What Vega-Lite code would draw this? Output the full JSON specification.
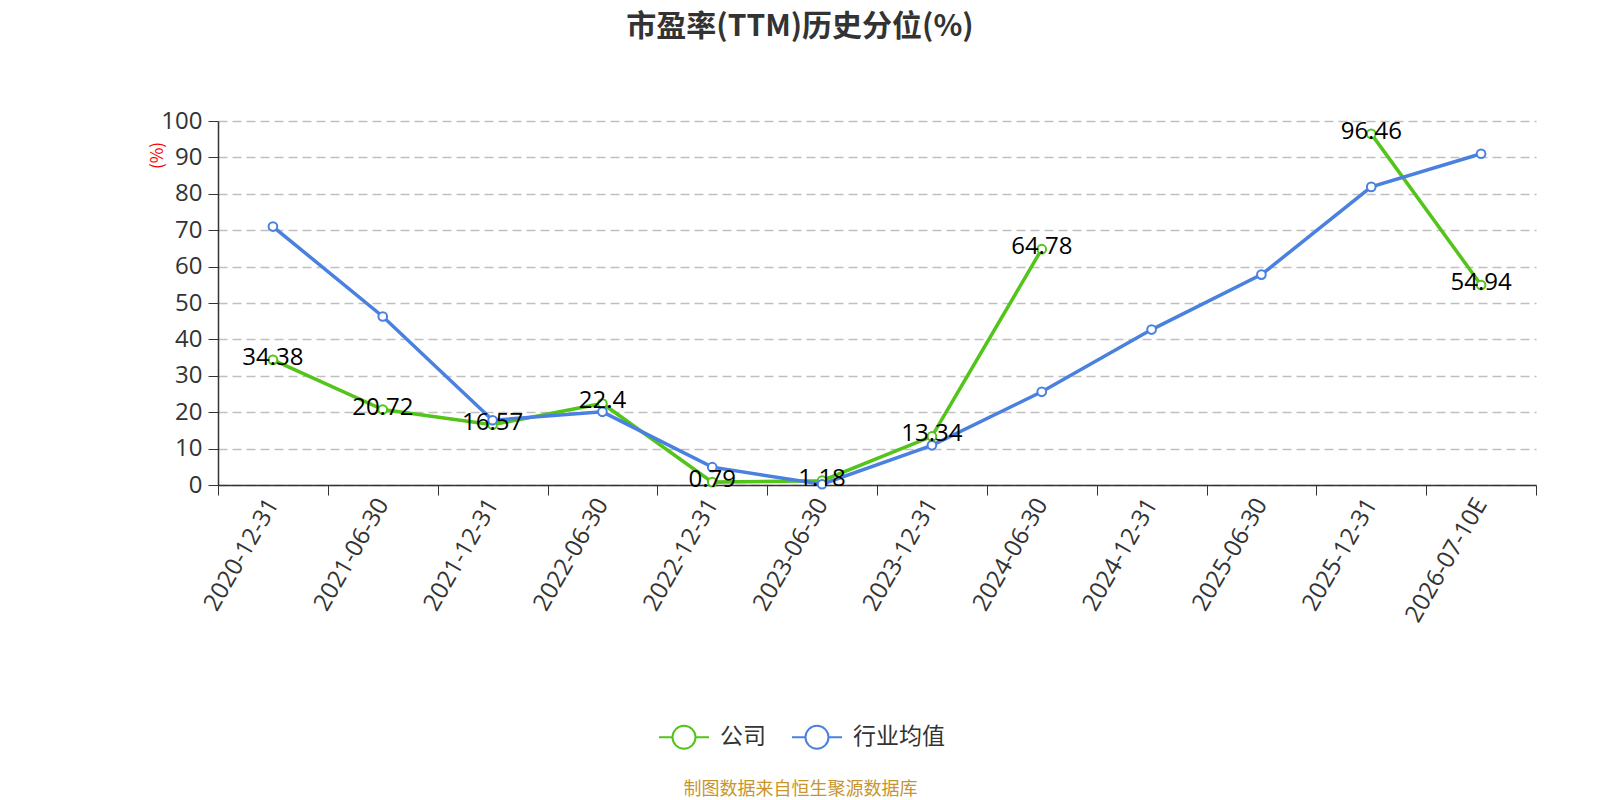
{
  "$schema": "https://vega.github.io/schema/vega-lite/v6.json",
  "width": 1318,
  "height": 364,
  "autosize": {"type": "none"},
  "padding": {"left": 218, "top": 121, "right": 64, "bottom": 315},
  "background": "white",
  "config": {"view": {"stroke": null}},
  "title": {
    "text": "市盈率(TTM)历史分位(%)",
    "font": "Noto Sans CJK SC",
    "fontSize": 30,
    "fontWeight": "bold",
    "color": "#333333",
    "anchor": "middle",
    "baseline": "bottom",
    "dx": -77,
    "offset": 37
  },
  "data": {
    "values": [
      {"date": "2020-12-31", "series": "公司", "value": 34.38},
      {"date": "2021-06-30", "series": "公司", "value": 20.72},
      {"date": "2021-12-31", "series": "公司", "value": 16.57},
      {"date": "2022-06-30", "series": "公司", "value": 22.4},
      {"date": "2022-12-31", "series": "公司", "value": 0.79},
      {"date": "2023-06-30", "series": "公司", "value": 1.18},
      {"date": "2023-12-31", "series": "公司", "value": 13.34},
      {"date": "2024-06-30", "series": "公司", "value": 64.78},
      {"date": "2024-12-31", "series": "公司", "value": null},
      {"date": "2025-06-30", "series": "公司", "value": null},
      {"date": "2025-12-31", "series": "公司", "value": 96.46},
      {"date": "2026-07-10E", "series": "公司", "value": 54.94},
      {"date": "2020-12-31", "series": "行业均值", "value": 71.0},
      {"date": "2021-06-30", "series": "行业均值", "value": 46.3},
      {"date": "2021-12-31", "series": "行业均值", "value": 17.8},
      {"date": "2022-06-30", "series": "行业均值", "value": 20.1},
      {"date": "2022-12-31", "series": "行业均值", "value": 4.9},
      {"date": "2023-06-30", "series": "行业均值", "value": 0.2},
      {"date": "2023-12-31", "series": "行业均值", "value": 10.9},
      {"date": "2024-06-30", "series": "行业均值", "value": 25.6},
      {"date": "2024-12-31", "series": "行业均值", "value": 42.7},
      {"date": "2025-06-30", "series": "行业均值", "value": 57.8},
      {"date": "2025-12-31", "series": "行业均值", "value": 81.9},
      {"date": "2026-07-10E", "series": "行业均值", "value": 91.0}
    ]
  },
  "encoding": {
    "x": {
      "field": "date",
      "type": "nominal",
      "bandPosition": 0.5,
      "scale": {
        "type": "band",
        "paddingInner": 0,
        "paddingOuter": 0,
        "domain": ["2020-12-31", "2021-06-30", "2021-12-31", "2022-06-30", "2022-12-31", "2023-06-30", "2023-12-31", "2024-06-30", "2024-12-31", "2025-06-30", "2025-12-31", "2026-07-10E"]
      },
      "axis": {
        "title": "制图数据来自恒生聚源数据库",
        "titleFont": "Noto Sans CJK SC",
        "titleFontSize": 18,
        "titleFontWeight": "normal",
        "titleColor": "#c8952c",
        "titleX": 582,
        "titleY": 304,
        "titleAlign": "center",
        "titleBaseline": "middle",
        "tickBand": "extent",
        "labelAngle": -60,
        "labelAlign": "right",
        "labelBaseline": "middle",
        "labelPadding": 5,
        "labelFontSize": 24,
        "labelColor": "#333333",
        "labelFont": "Open Sans",
        "tickSize": 10,
        "tickColor": "#333333",
        "domainColor": "#333333",
        "domainWidth": 1.5,
        "grid": false
      }
    },
    "y": {
      "field": "value",
      "type": "quantitative",
      "scale": {"domain": [0, 100], "nice": false},
      "axis": {
        "title": "(%)",
        "titleFont": "Noto Sans CJK SC",
        "titleFontSize": 17,
        "titleFontWeight": "normal",
        "titleColor": "#ff0000",
        "titleAngle": -90,
        "titleX": -61,
        "titleY": 34,
        "titleAlign": "center",
        "titleBaseline": "middle",
        "values": [0, 10, 20, 30, 40, 50, 60, 70, 80, 90, 100],
        "labelFontSize": 24,
        "labelColor": "#333333",
        "labelFont": "Open Sans",
        "labelPadding": 6,
        "tickSize": 10,
        "tickColor": "#333333",
        "domainColor": "#333333",
        "domainWidth": 1.5,
        "grid": true,
        "gridColor": "#c0c0c0",
        "gridDash": [9, 5],
        "gridWidth": 1.3
      }
    },
    "color": {
      "field": "series",
      "type": "nominal",
      "scale": {"domain": ["公司", "行业均值"], "range": ["#52c41a", "#4a80df"]},
      "legend": {
        "orient": "none",
        "legendX": 440,
        "legendY": 590,
        "direction": "horizontal",
        "title": null,
        "symbolType": "M-1,0L-0.46,0M0.46,0L1,0M-0.46,0A0.46,0.46,0,1,1,0.46,0A0.46,0.46,0,1,1,-0.46,0Z",
        "symbolSize": 2500,
        "symbolStrokeWidth": 2,
        "symbolFillColor": "white",
        "symbolOpacity": 1,
        "labelFont": "Noto Sans CJK SC",
        "labelFontSize": 23,
        "labelColor": "#333333",
        "labelOffset": 10,
        "columnPadding": 22,
        "padding": 0
      }
    }
  },
  "layer": [
    {
      "transform": [{"filter": "datum.series === '公司'"}],
      "mark": {"type": "line", "strokeWidth": 3.5, "invalid": "break-paths-show-domains"}
    },
    {
      "transform": [{"filter": "datum.series === '行业均值'"}],
      "mark": {"type": "line", "strokeWidth": 3.5}
    },
    {
      "transform": [{"filter": "datum.series === '公司' && isValid(datum.value)"}],
      "mark": {"type": "point", "filled": false, "fill": "white", "size": 75, "strokeWidth": 2, "opacity": 1}
    },
    {
      "transform": [{"filter": "datum.series === '行业均值'"}],
      "mark": {"type": "point", "filled": false, "fill": "white", "size": 75, "strokeWidth": 2, "opacity": 1}
    },
    {
      "transform": [{"filter": "datum.series === '公司' && isValid(datum.value)"}],
      "mark": {"type": "text", "font": "Open Sans", "fontSize": 24, "color": "#000000", "baseline": "middle", "align": "center", "dy": -2},
      "encoding": {
        "text": {"field": "value", "type": "quantitative"},
        "color": {"value": "#000000"}
      }
    }
  ]
}
